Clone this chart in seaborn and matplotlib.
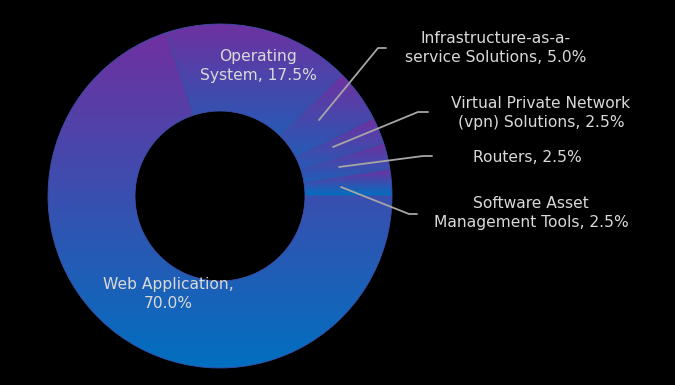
import numpy as np
import matplotlib
matplotlib.use("Agg")
import matplotlib.pyplot as plt
import seaborn as sns

# Data
categories = ["Web Application", "Operating System",
              "Infrastructure-as-a-service Solutions",
              "Virtual Private Network (vpn) Solutions",
              "Routers", "Software Asset Management Tools"]
shares = [70.0, 17.5, 5.0, 2.5, 2.5, 2.5]
label_texts = ["Web Application,\n70.0%",
               "Operating\nSystem, 17.5%",
               "Infrastructure-as-a-\nservice Solutions, 5.0%",
               "Virtual Private Network\n(vpn) Solutions, 2.5%",
               "Routers, 2.5%",
               "Software Asset\nManagement Tools, 2.5%"]

sns.set_theme(style="dark", rc={"figure.facecolor": "black", "axes.facecolor": "black"})
plt.rcParams['font.family'] = ['DejaVu Sans']

W, H = 675, 385
fig = plt.figure(figsize=(W / 100, H / 100), dpi=100)
ax = fig.add_axes([0, 0, 1, 1])

cx, cy = 220, H - 196
r_out, r_in = 172, 85

wedges, _ = ax.pie(shares, center=(cx, cy), radius=r_out, startangle=0,
                   counterclock=False, frame=True,
                   wedgeprops=dict(width=r_out - r_in, facecolor="none",
                                   edgecolor="#3b4fa8", linewidth=0.6))

# vertical purple->blue gradient inside every slice
cmap = sns.blend_palette(["#0070C0", "#7030A0"], as_cmap=True)
grad = np.linspace(0, 1, 256).reshape(-1, 1)
for w in wedges:
    verts = w.get_path().vertices
    x0, x1 = verts[:, 0].min(), verts[:, 0].max()
    y0, y1 = verts[:, 1].min(), verts[:, 1].max()
    im = ax.imshow(grad, cmap=cmap, extent=(x0, x1, y0, y1), origin="lower",
                   aspect="auto", zorder=0.5, interpolation="bilinear")
    im.set_clip_path(w)

ax.set_xlim(0, W)
ax.set_ylim(0, H)
ax.set_aspect("equal")
ax.axis("off")

txt_color = "#D9D9D9"
line_color = "#A6A6A6"
fs = 11.2
ls = 1.32

# inside labels
ax.text(168, H - 294, label_texts[0], ha="center", va="center", color=txt_color,
        fontsize=fs, linespacing=ls)
ax.text(258, H - 66, label_texts[1], ha="center", va="center", color=txt_color,
        fontsize=fs, linespacing=ls)

# outside labels with leader lines
leaders = [
    ([319, 378, 386], [120, 48, 48], (496, 48)),
    ([333, 418, 428], [147, 112, 112], (541, 113)),
    ([339, 423, 432], [167, 156, 156], (527, 157)),
    ([341, 409, 417], [187, 214, 214], (531, 213)),
]
for i, (xs, ys, (tx, ty)) in enumerate(leaders):
    ax.plot(xs, [H - y for y in ys], color=line_color, lw=1.3, zorder=3)
    ax.text(tx, H - ty, label_texts[i + 2], ha="center", va="center",
            color=txt_color, fontsize=fs, linespacing=ls)

fig.savefig("out.png", dpi=100, facecolor="black")
